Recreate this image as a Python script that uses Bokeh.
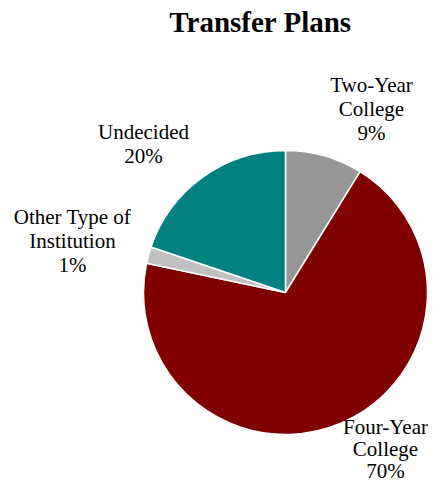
import math
from bokeh.plotting import figure
from bokeh.models import ColumnDataSource, Range1d
from bokeh.core.properties import value
from bokeh.embed import file_html
from bokeh.resources import INLINE

# ---- data ----
categories = ["Two-Year\nCollege", "Four-Year\nCollege", "Other Type of\nInstitution", "Undecided"]
shares = [8.8, 69.5, 1.9, 19.8]          # slice sizes
pct_labels = ["9%", "70%", "1%", "20%"]  # printed labels
colors = ["#969696", "#800000", "#C0C0C0", "#008080"]

# ---- layout (pixel-like coordinates, y measured from top) ----
W, H = 428, 485
cx, cy_top, R = 285, 292, 142
label_anchor = [(371, 92), (385, 434), (72, 224), (143, 139)]  # x centre, first visual baseline
line_pitches = [24, 22, 24, 24]
FONT = "Liberation Serif"
LBL_SIZE, TITLE_SIZE = 21, 29
SHIFT = 0.38  # renderer places text lower than requested by ~this fraction of the font size

def fy(y_top):
    return H - y_top

total = sum(shares)
start, end = [], []
cum = 0.0
for s in shares:
    f0 = cum / total
    cum += s
    f1 = cum / total
    start.append(math.pi / 2 - 2 * math.pi * f1)
    end.append(math.pi / 2 - 2 * math.pi * f0)

src = ColumnDataSource(dict(start=start, end=end, color=colors))

p = figure(width=W, height=H, x_range=Range1d(0, W), y_range=Range1d(0, H),
           toolbar_location=None, output_backend="svg", min_border=0,
           min_border_left=0, min_border_right=0, min_border_top=0, min_border_bottom=0)
p.axis.visible = False
p.grid.visible = False
p.outline_line_color = None
p.background_fill_color = "white"
p.border_fill_color = "white"

p.wedge(x=cx, y=fy(cy_top), radius=R, start_angle="start", end_angle="end",
        direction="anticlock", fill_color="color", line_color="white", line_width=1.5,
        source=src)

# labels
lx, ly, lt = [], [], []
for (ax, ab), pitch, name, pct in zip(label_anchor, line_pitches, categories, pct_labels):
    lines = name.split("\n") + [pct]
    for i, t in enumerate(lines):
        lx.append(ax)
        ly.append(fy(ab + i * pitch - SHIFT * LBL_SIZE))
        lt.append(t)
p.text(x=lx, y=ly, text=lt, text_align="center", text_baseline="alphabetic",
       text_font=value(FONT), text_font_size=f"{LBL_SIZE}px", text_color="black")

# title
p.text(x=[260], y=[fy(33 - SHIFT * TITLE_SIZE)], text=["Transfer Plans"], text_align="center",
       text_baseline="alphabetic", text_font=value(FONT), text_font_size=f"{TITLE_SIZE}px",
       text_font_style="bold", text_color="black")

open("out.html", "w").write(file_html(p, INLINE))
